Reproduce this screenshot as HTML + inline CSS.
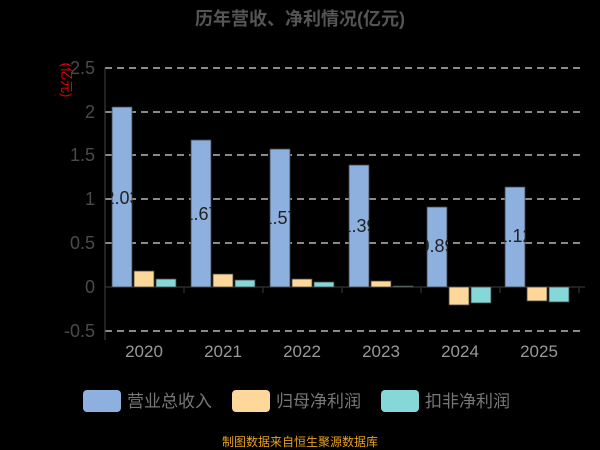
<!DOCTYPE html>
<html><head><meta charset="utf-8"><style>
body{margin:0;background:#000;}
svg{display:block;font-family:"Liberation Sans","Noto Sans CJK SC",sans-serif;}
</style></head><body>
<svg width="600" height="450" viewBox="0 0 600 450">
<defs>
<clipPath id="c1"><rect x="112" y="107" width="20" height="180"/></clipPath>
<clipPath id="c2"><rect x="191" y="140" width="20" height="147"/></clipPath>
<clipPath id="c3"><rect x="270" y="149" width="20" height="138"/></clipPath>
<clipPath id="c4"><rect x="349" y="165" width="20" height="122"/></clipPath>
<clipPath id="c5"><rect x="427" y="207" width="20" height="80"/></clipPath>
<clipPath id="c6"><rect x="505" y="187" width="20" height="100"/></clipPath>
</defs>
<rect width="600" height="450" fill="#000"/>
<text x="300" y="25" text-anchor="middle" font-size="18" font-weight="bold" fill="#555">历年营收、净利情况(亿元)</text>
<text x="62" y="80" font-size="13" fill="#e00" transform="rotate(90 62 80)" text-anchor="middle">(亿元)</text>
<g stroke="#ddd" stroke-dasharray="7,5" stroke-width="1.3">
<line x1="105" x2="585" y1="68" y2="68"/><line x1="105" x2="585" y1="112" y2="112"/><line x1="105" x2="585" y1="155" y2="155"/><line x1="105" x2="585" y1="199" y2="199"/><line x1="105" x2="585" y1="243" y2="243"/><line x1="105" x2="585" y1="331" y2="331"/>
</g>
<g font-size="18" fill="#4a4a4a" text-anchor="end">
<text x="95" y="74">2.5</text><text x="95" y="118">2</text><text x="95" y="161">1.5</text><text x="95" y="205">1</text><text x="95" y="249">0.5</text><text x="95" y="293">0</text><text x="95" y="337">-0.5</text>
</g>
<line x1="105" x2="105" y1="68" y2="340" stroke="#444"/>
<g stroke="#333" stroke-width="1.2">
<line x1="105" x2="585" y1="287" y2="287"/>
<line x1="184" x2="184" y1="287" y2="293"/><line x1="263" x2="263" y1="287" y2="293"/><line x1="342" x2="342" y1="287" y2="293"/><line x1="421" x2="421" y1="287" y2="293"/><line x1="500" x2="500" y1="287" y2="293"/><line x1="579" x2="579" y1="287" y2="293"/>
</g>
<g stroke="#444" stroke-width="0.8">
<rect x="112" y="107" width="20" height="180" fill="#8eb0de"/>
<rect x="134" y="271" width="20" height="16" fill="#fdd89a"/>
<rect x="156" y="279" width="20" height="8" fill="#86d8d8"/>
<rect x="191" y="140" width="20" height="147" fill="#8eb0de"/>
<rect x="213" y="274" width="20" height="13" fill="#fdd89a"/>
<rect x="235" y="280" width="20" height="7" fill="#86d8d8"/>
<rect x="270" y="149" width="20" height="138" fill="#8eb0de"/>
<rect x="292" y="279" width="20" height="8" fill="#fdd89a"/>
<rect x="314" y="282" width="20" height="5" fill="#86d8d8"/>
<rect x="349" y="165" width="20" height="122" fill="#8eb0de"/>
<rect x="371" y="281" width="20" height="6" fill="#fdd89a"/>
<rect x="393" y="286" width="20" height="1" fill="#86d8d8"/>
<rect x="427" y="207" width="20" height="80" fill="#8eb0de"/>
<rect x="449" y="287" width="20" height="18" fill="#fdd89a"/>
<rect x="471" y="287" width="20" height="16" fill="#86d8d8"/>
<rect x="505" y="187" width="20" height="100" fill="#8eb0de"/>
<rect x="527" y="287" width="20" height="14" fill="#fdd89a"/>
<rect x="549" y="287" width="20" height="15" fill="#86d8d8"/>
</g>
<g font-size="18" fill="#222" text-anchor="middle">
<text x="122" y="204" clip-path="url(#c1)">2.03</text><text x="201" y="220" clip-path="url(#c2)">1.67</text><text x="280" y="224" clip-path="url(#c3)">1.57</text><text x="359" y="232" clip-path="url(#c4)">1.39</text><text x="437" y="252" clip-path="url(#c5)">0.89</text><text x="515" y="242" clip-path="url(#c6)">1.12</text>
</g>
<g font-size="17" fill="#999" text-anchor="middle">
<text x="144" y="357">2020</text><text x="223" y="357">2021</text><text x="302" y="357">2022</text><text x="381" y="357">2023</text><text x="460" y="357">2024</text><text x="539" y="357">2025</text>
</g>
<g font-size="17" fill="#777">
<rect x="83" y="390" width="38" height="22" rx="4" fill="#8eb0de"/><text x="127" y="407">营业总收入</text>
<rect x="232" y="390" width="38" height="22" rx="4" fill="#fdd89a"/><text x="276" y="407">归母净利润</text>
<rect x="381" y="390" width="38" height="22" rx="4" fill="#86d8d8"/><text x="425" y="407">扣非净利润</text>
</g>
<text x="300" y="446" text-anchor="middle" font-size="12" fill="#e8a020">制图数据来自恒生聚源数据库</text>
</svg>
</body></html>
